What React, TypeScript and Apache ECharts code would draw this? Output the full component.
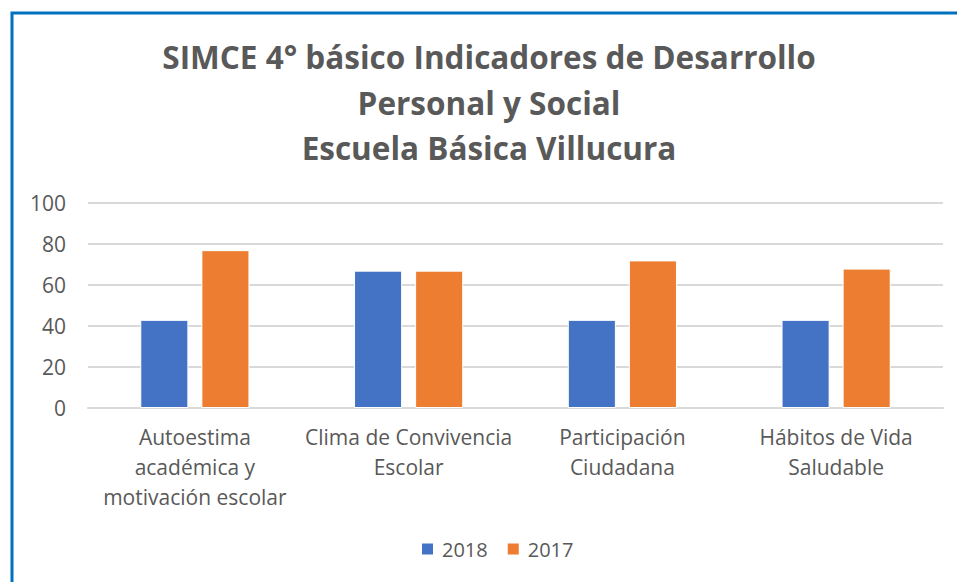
import React, { useEffect, useRef } from "react";
import * as echarts from "echarts";

const categories = [
  "Autoestima\nacadémica y\nmotivación escolar",
  "Clima de Convivencia\nEscolar",
  "Participación\nCiudadana",
  "Hábitos de Vida\nSaludable",
];
const series2018 = [43, 67, 43, 43];
const series2017 = [77, 67, 72, 68];
const titleText = "SIMCE 4° básico Indicadores de Desarrollo\nPersonal y Social\nEscuela Básica Villucura";

const FONT = "'Open Sans', 'Noto Sans', sans-serif";
const GREY = "#595959";

export default function App() {
  const ref = useRef<HTMLDivElement>(null);
  useEffect(() => {
    if (!ref.current) return;
    const chart = echarts.init(ref.current, undefined, { renderer: "svg" });
    chart.setOption({
      animation: false,
      backgroundColor: "#ffffff",
      title: {
        text: titleText,
        left: 484,
        top: 29,
        textAlign: "center",
        textStyle: {
          fontFamily: FONT,
          fontWeight: "bold",
          fontSize: 31.5,
          lineHeight: 45.5,
          color: GREY,
        },
      },
      graphic: [
        {
          type: "rect",
          shape: { x: 12, y: 13, width: 1000, height: 700 },
          style: { fill: "none", stroke: "#0070C0", lineWidth: 3 },
          silent: true,
        },
      ],
      legend: {
        bottom: 18,
        left: 415,
        itemWidth: 13,
        itemHeight: 13,
        itemGap: 18,
        icon: "rect",
        textStyle: { fontFamily: FONT, fontSize: 20, color: GREY, padding: [0, 0, 0, 3] },
        data: ["2018", "2017"],
      },
      grid: { left: 88, right: 14, top: 203, bottom: 174, containLabel: false },
      xAxis: {
        type: "category",
        data: categories,
        axisLine: { lineStyle: { color: "#d9d9d9", width: 2 } },
        axisTick: { show: false },
        axisLabel: {
          fontFamily: FONT,
          fontSize: 21,
          lineHeight: 30,
          color: GREY,
          margin: 14,
          interval: 0,
        },
      },
      yAxis: {
        type: "value",
        min: 0,
        max: 100,
        interval: 20,
        axisLine: { show: false },
        axisTick: { show: false },
        splitLine: { lineStyle: { color: "#d9d9d9", width: 2 } },
        axisLabel: { fontFamily: FONT, fontSize: 21, color: GREY, margin: 22 },
      },
      series: [
        {
          name: "2018",
          type: "bar",
          data: series2018,
          barWidth: "22.5%",
          barGap: "27%",
          itemStyle: { color: "#4472C4", borderColor: "#ffffff", borderWidth: 1 },
        },
        {
          name: "2017",
          type: "bar",
          data: series2017,
          barWidth: "22.5%",
          itemStyle: { color: "#ED7D31", borderColor: "#ffffff", borderWidth: 1 },
        },
      ],
    });
    return () => chart.dispose();
  }, []);
  return (
    <div
      ref={ref}
      style={{ position: "fixed", left: 0, top: 0, width: 957, height: 582 }}
    />
  );
}
